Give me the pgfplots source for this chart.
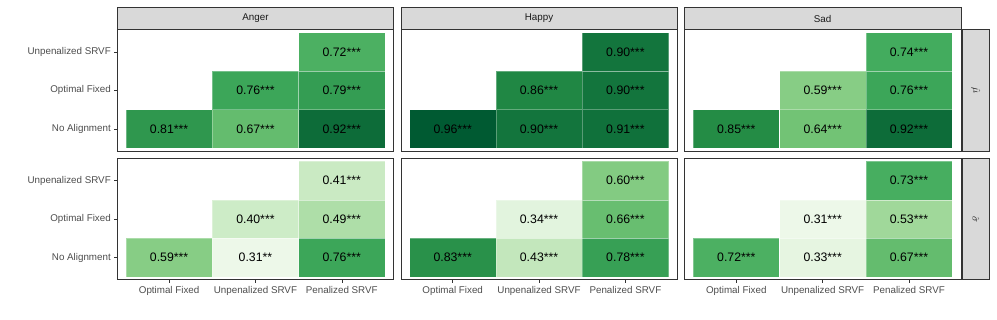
\documentclass[border=0pt]{standalone}
\usepackage{fontspec}
\setmainfont{Liberation Sans}
\usepackage{pgfplots}
\pgfplotsset{compat=1.18}
\definecolor{grey20}{HTML}{333333}
\definecolor{grey30}{HTML}{4D4D4D}
\definecolor{grey10}{HTML}{1A1A1A}
\definecolor{grey85}{HTML}{D9D9D9}

% x: 1 Optimal Fixed, 2 Unpenalized SRVF, 3 Penalized SRVF
% y: 1 No Alignment, 2 Optimal Fixed, 3 Unpenalized SRVF

\pgfplotsset{
  panel/.style={
    scale only axis, width=276.3pt, height=121.3pt,
    anchor=south west,
    xmin=0.4, xmax=3.6, ymin=0.425, ymax=3.575,
    axis line style={draw=grey20, line width=0.6pt},
    tick style={draw=grey20, line width=0.5pt},
    tick align=outside, major tick length=3pt,
    xtick={1,2,3}, ytick={1,2,3},
    xtick pos=bottom, ytick pos=left,
    xticklabels={}, yticklabels={},
    tick label style={text=grey30, font=\fontsize{9.8}{11}\selectfont},
    colormap={greens}{rgb255=(237,248,233) rgb255=(199,233,192) rgb255=(161,217,155) rgb255=(116,196,118) rgb255=(65,171,93) rgb255=(35,139,69) rgb255=(0,90,50)},
    point meta min=0.31, point meta max=0.96,
    clip=false,
  },
  noxt/.style={xtick=\empty},
  noyt/.style={ytick=\empty},
  xlab/.style={xticklabels={Optimal Fixed, Unpenalized SRVF, Penalized SRVF}},
  ylab/.style={yticklabels={No Alignment, Optimal Fixed, Unpenalized SRVF}},
  tiles/.style={scatter, only marks, point meta=explicit, mark=square*,
    mark size=43.15pt, mark options={yscale=0.4461},
    scatter/use mapped color={draw=white, draw opacity=0.3, fill=mapped color, line width=0.4pt}},
  vals/.style={draw=none, mark=none, point meta=explicit symbolic,
    nodes near coords, nodes near coords align={center},
    every node near coord/.append style={text=black, font=\fontsize{12.3}{14}\selectfont, inner sep=0pt}},
}

\begin{document}
\begin{tikzpicture}
\useasboundingbox (0,0) rectangle (997pt,319pt);

% row 1 : mu-hat
\begin{axis}[panel, noxt, ylab, at={(117.3pt,168pt)}]
\addplot[tiles] coordinates {(1,1) [0.81] (2,1) [0.67] (3,1) [0.92] (2,2) [0.76] (3,2) [0.79] (3,3) [0.72]};
\addplot[vals] coordinates {(1,1) [0.81***] (2,1) [0.67***] (3,1) [0.92***] (2,2) [0.76***] (3,2) [0.79***] (3,3) [0.72***]};
\end{axis}
\begin{axis}[panel, noxt, noyt, at={(400.9pt,168pt)}]
\addplot[tiles] coordinates {(1,1) [0.96] (2,1) [0.90] (3,1) [0.91] (2,2) [0.86] (3,2) [0.90] (3,3) [0.90]};
\addplot[vals] coordinates {(1,1) [0.96***] (2,1) [0.90***] (3,1) [0.91***] (2,2) [0.86***] (3,2) [0.90***] (3,3) [0.90***]};
\end{axis}
\begin{axis}[panel, noxt, noyt, at={(684.5pt,168pt)}]
\addplot[tiles] coordinates {(1,1) [0.85] (2,1) [0.64] (3,1) [0.92] (2,2) [0.59] (3,2) [0.76] (3,3) [0.74]};
\addplot[vals] coordinates {(1,1) [0.85***] (2,1) [0.64***] (3,1) [0.92***] (2,2) [0.59***] (3,2) [0.76***] (3,3) [0.74***]};
\end{axis}
% row 2 : sigma-hat
\begin{axis}[panel, xlab, ylab, at={(117.3pt,39.2pt)}]
\addplot[tiles] coordinates {(1,1) [0.59] (2,1) [0.31] (3,1) [0.76] (2,2) [0.40] (3,2) [0.49] (3,3) [0.41]};
\addplot[vals] coordinates {(1,1) [0.59***] (2,1) [0.31**] (3,1) [0.76***] (2,2) [0.40***] (3,2) [0.49***] (3,3) [0.41***]};
\end{axis}
\begin{axis}[panel, xlab, noyt, at={(400.9pt,39.2pt)}]
\addplot[tiles] coordinates {(1,1) [0.83] (2,1) [0.43] (3,1) [0.78] (2,2) [0.34] (3,2) [0.66] (3,3) [0.60]};
\addplot[vals] coordinates {(1,1) [0.83***] (2,1) [0.43***] (3,1) [0.78***] (2,2) [0.34***] (3,2) [0.66***] (3,3) [0.60***]};
\end{axis}
\begin{axis}[panel, xlab, noyt, at={(684.5pt,39.2pt)}]
\addplot[tiles] coordinates {(1,1) [0.72] (2,1) [0.33] (3,1) [0.67] (2,2) [0.31] (3,2) [0.53] (3,3) [0.73]};
\addplot[vals] coordinates {(1,1) [0.72***] (2,1) [0.33***] (3,1) [0.67***] (2,2) [0.31***] (3,2) [0.53***] (3,3) [0.73***]};
\end{axis}

% strips
\foreach \xl/\lab in {117.3/Anger, 400.9/Happy, 684.5/Sad} {
  \draw[fill=grey85, draw=grey20, line width=0.6pt] (\xl pt,289.3pt) rectangle ({\xl pt+276.3pt},311.7pt);
  \node[text=grey10, font=\fontsize{9.8}{11}\selectfont] at ({\xl pt+138.15pt},300.5pt) {\lab};
}
\draw[fill=grey85, draw=grey20, line width=0.6pt] (962.3pt,168pt) rectangle (989.5pt,289.3pt);
\node[text=grey10, rotate=-90, font=\fontsize{9.8}{11}\selectfont] at (975.9pt,228.65pt) {$\hat{\mu}$};
\draw[fill=grey85, draw=grey20, line width=0.6pt] (962.3pt,39.2pt) rectangle (989.5pt,160.5pt);
\node[text=grey10, rotate=-90, font=\fontsize{9.8}{11}\selectfont] at (975.9pt,99.85pt) {$\hat{\sigma}$};
\end{tikzpicture}
\end{document}
